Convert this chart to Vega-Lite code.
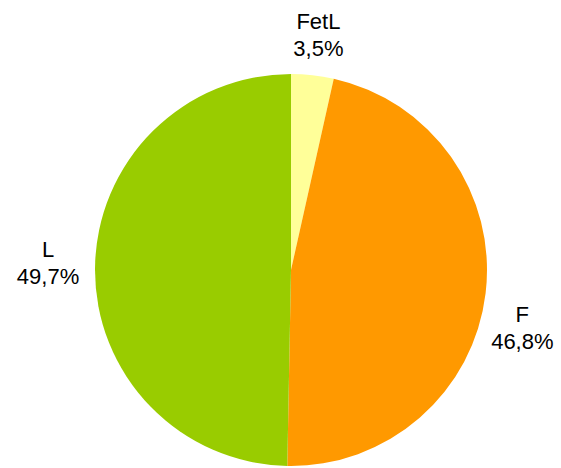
{
  "$schema": "https://vega.github.io/schema/vega-lite/v6.json",
  "width": 540,
  "height": 396,
  "autosize": "none",
  "padding": {"left": 21, "top": 72, "right": 0, "bottom": 0},
  "background": "white",
  "view": {"stroke": null},
  "data": {
    "values": [
      {"label": "FetL", "value": 3.5, "pct": "3,5%", "idx": 1},
      {"label": "F", "value": 46.8, "pct": "46,8%", "idx": 2},
      {"label": "L", "value": 49.7, "pct": "49,7%", "idx": 3}
    ]
  },
  "transform": [{"calculate": "datum.label + '\\n' + datum.pct", "as": "txt"}],
  "encoding": {
    "theta": {"field": "value", "type": "quantitative", "stack": true, "scale": {"domain": [0, 100]}},
    "order": {"field": "idx", "type": "quantitative"}
  },
  "layer": [
    {
      "mark": {"type": "arc", "radius": 196},
      "encoding": {
        "color": {
          "field": "label",
          "type": "nominal",
          "scale": {"domain": ["FetL", "F", "L"], "range": ["#FFFF99", "#FF9900", "#99CC00"]},
          "legend": null
        }
      }
    },
    {
      "mark": {"type": "text", "radius": 250, "font": "Liberation Sans", "fontSize": 22, "lineBreak": "\n", "lineHeight": 27, "baseline": "middle", "align": "center", "color": "black"},
      "encoding": {"text": {"condition": {"test": "datum.label === 'FetL'", "field": "txt"}, "value": ""}}
    },
    {
      "mark": {"type": "text", "radius": 233, "dy": 17, "font": "Liberation Sans", "fontSize": 22, "lineBreak": "\n", "lineHeight": 27, "baseline": "middle", "align": "center", "color": "black"},
      "encoding": {"text": {"condition": {"test": "datum.label === 'F'", "field": "txt"}, "value": ""}}
    },
    {
      "mark": {"type": "text", "radius": 243, "dy": -18, "font": "Liberation Sans", "fontSize": 22, "lineBreak": "\n", "lineHeight": 27, "baseline": "middle", "align": "center", "color": "black"},
      "encoding": {"text": {"condition": {"test": "datum.label === 'L'", "field": "txt"}, "value": ""}}
    }
  ]
}
